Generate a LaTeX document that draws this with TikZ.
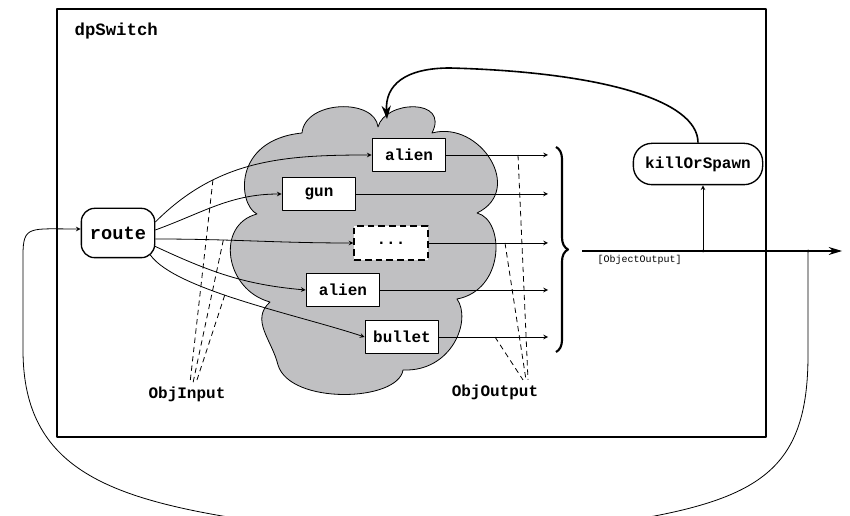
\documentclass[tikz,border=0pt]{standalone}
\usepackage{fontspec}
\setmonofont{Liberation Mono}
\usetikzlibrary{arrows.meta,decorations.pathreplacing,calc}
\definecolor{cloudgray}{RGB}{192,192,194}
\begin{document}
\begin{tikzpicture}[x=0.75pt,y=0.75pt,>=stealth,line join=round,
	obj/.style={draw,line width=1pt,fill=white,minimum width=55pt,minimum height=25pt,inner sep=0pt,font=\ttfamily\bfseries\fontsize{12}{14}\selectfont},
	proc/.style={draw,line width=1pt,rounded corners=10pt,fill=white,inner sep=0pt,font=\ttfamily\bfseries\fontsize{14}{16}\selectfont},
	lbl/.style={inner sep=1pt,font=\ttfamily\bfseries\fontsize{12}{14}\selectfont},
	link/.style={->,line width=0.6pt},
	note/.style={line width=0.6pt,dash pattern=on 4pt off 3pt}]
	\useasboundingbox (0,0) rectangle (850,-516);
	% frame and cloud
	\draw[line width=0.8pt] (57,-9) rectangle (766,-437);
	\node[lbl,anchor=west,font=\ttfamily\bfseries\fontsize{13}{15}\selectfont] (title) at (73,-31) {dpSwitch};
	\filldraw[fill=cloudgray,line width=0.6pt] (257,-214) .. controls (238,-205) and (232,-140) .. (302,-133)
		.. controls (305,-100) and (375,-98) .. (378,-127) .. controls (385,-100) and (450,-98) .. (432,-133)
		.. controls (480,-120) and (525,-190) .. (477,-213) .. controls (505,-220) and (505,-290) .. (457,-299)
		.. controls (472,-320) and (452,-372) .. (403,-370) .. controls (398,-402) and (290,-405) .. (278,-365)
		.. controls (272,-340) and (250,-320) .. (270,-302) .. controls (225,-290) and (215,-225) .. cycle;
	% nodes
	\node[proc,minimum width=55pt,minimum height=37pt] (route) at (118,-233) {route};
	\node[obj] (a1) at (409,-155) {alien};
	\node[obj] (gun) at (319,-194) {gun};
	\node[obj,line width=1.3pt,dash pattern=on 5pt off 3pt] (more) at (391,-243) {...};
	\node[obj] (a2) at (343,-290) {alien};
	\node[obj] (bul) at (402,-337) {bullet};
	\node[proc,rounded corners=14pt,minimum width=97pt,minimum height=31pt,font=\ttfamily\bfseries\fontsize{12}{14}\selectfont] (kill) at (698,-164) {killOrSpawn};
	\node[lbl] (inlbl) at (187,-394) {ObjInput};
	\node[lbl] (outlbl) at (495,-392) {ObjOutput};
	\node[anchor=west,inner sep=1pt,font=\ttfamily\fontsize{7.5}{9}\selectfont] (buslbl) at (596,-260) {[ObjectOutput]};
	\coordinate (o) at (548,0);
	\coordinate (bus) at (582,-251);
	\coordinate (j1) at (703,-251);
	\coordinate (j2) at (808,-251);
	\coordinate (busend) at (842,-251);
	\coordinate (drop) at (387,-119);
	% inputs
	\draw[link] ($(route.east)+(0,11)$) to[out=45,in=180] coordinate[pos=0.3] (i1) (a1.west);
	\draw[link] ($(route.east)+(0,3)$) to[out=20,in=180] (gun.west);
	\draw[link] ($(route.east)+(0,-6)$) to[out=0,in=180] coordinate[pos=0.33] (i2) (more.west);
	\draw[link] ($(route.east)+(-1,-13)$) to[out=-25,in=175] (a2.west);
	\draw[link] ($(route.east)+(-5,-22)$) .. controls +(25,-35) and +(-66,22) .. coordinate[pos=0.43] (i3) (bul.west);
	\foreach \p/\dx in {i1/3,i2/6,i3/9}
		\draw[note] (\p) -- ($(inlbl.north)+(\dx,2)$);
	% outputs
	\foreach \b in {a1,gun,more,a2,bul}
		\draw[link] (\b.east) -- (\b.east -| o);
	\foreach \b/\x/\dx in {a1/518/33,more/505/31,bul/495/28}
		\draw[note] (\b.east -| \x,0) -- ($(outlbl.north)+(\dx,3)$);
	\draw[decorate,decoration={brace,amplitude=9pt},line width=1.6pt] (556,-147) -- (556,-352);
	\draw[-{Stealth[length=10pt,width=6pt]},line width=0.8pt] (bus) -- (busend);
	\fill (j1) circle (1.5);
	\fill (j2) circle (1.5);
	\draw[link] (j1) -- (j1 |- kill.south);
	\draw[-{Stealth[length=10pt,width=7pt]},line width=1.2pt] (kill.north) .. controls (698,-100) and (600,-72) .. (450,-68)
		.. controls (405,-68) and (385,-85) .. (drop);
	% loop back to route
	\begin{scope}
		\clip (0,0) rectangle (850,-516);
		\draw[link] (j2) -- (808,-355) .. controls (808,-470) and (760,-500) .. (620,-522) -- (260,-522)
			.. controls (110,-500) and (23,-470) .. (23,-350) -- (23,-255)
			.. controls (23,-225) and (30,-229) .. ($(route.west)+(0,4)$);
	\end{scope}
\end{tikzpicture}
\end{document}
